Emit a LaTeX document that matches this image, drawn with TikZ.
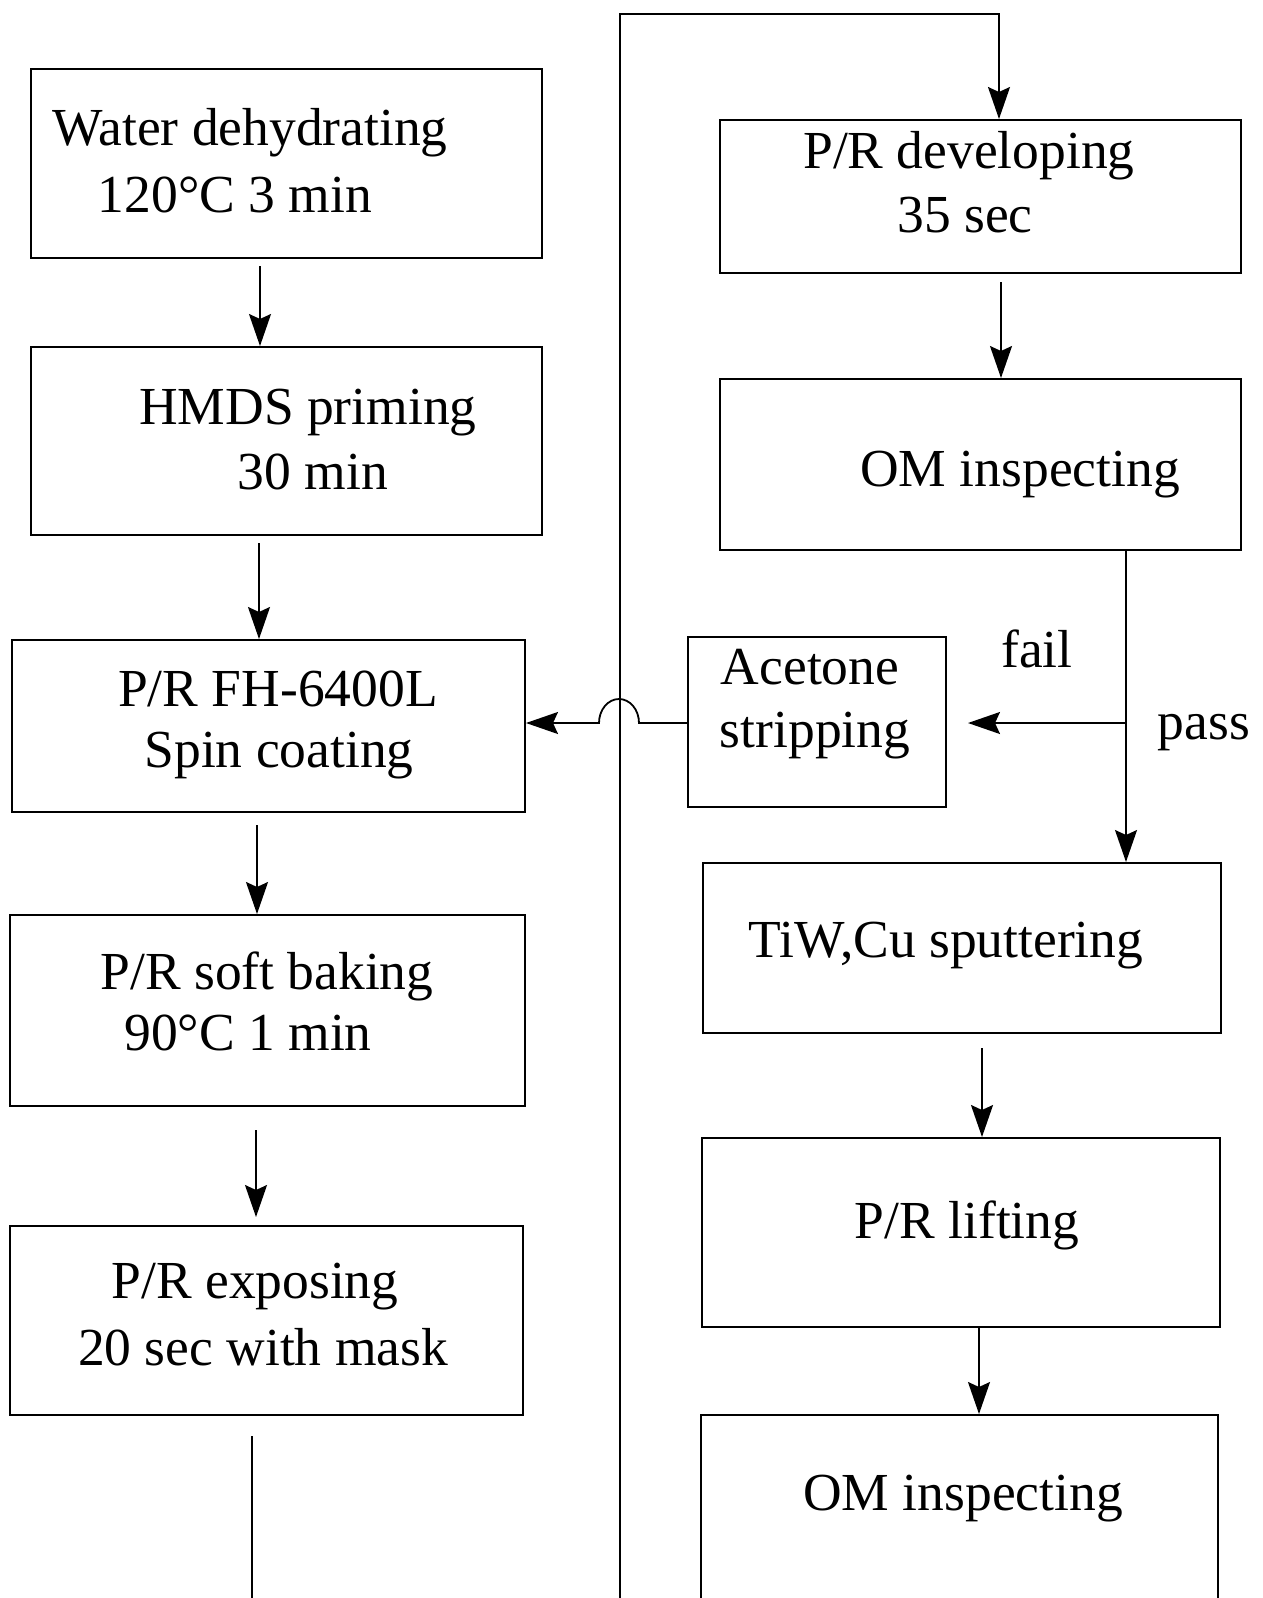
\documentclass[tikz,border=0pt]{standalone}
\usepackage{fontspec}
\setmainfont{Liberation Serif}
\usetikzlibrary{arrows.meta}
\begin{document}
\begin{tikzpicture}[x=1pt,y=-1pt,
  box/.style={draw, line width=2pt, inner sep=0pt},
  txt/.style={anchor=base, inner sep=0pt, font=\fontsize{53.5}{64}\selectfont},
  conn/.style={line width=1.8pt},
  arr/.style={line width=1.8pt, -{Stealth[length=32pt,width=22pt,inset=5pt]}}]
\path[use as bounding box] (0,0) rectangle (1263,1598);
\clip (0,0) rectangle (1263,1598);
% left column boxes
\node[box, minimum width=511pt, minimum height=189pt] (b1) at (286.5,163.5) {};
\node[box, minimum width=511pt, minimum height=188pt] (b2) at (286.5,441) {};
\node[box, minimum width=513pt, minimum height=172pt] (b3) at (268.5,726) {};
\node[box, minimum width=515pt, minimum height=191pt] (b4) at (267.5,1010.5) {};
\node[box, minimum width=513pt, minimum height=189pt] (b5) at (266.5,1320.5) {};
% right column boxes
\node[box, minimum width=521pt, minimum height=153pt] (r1) at (980.5,196.5) {};
\node[box, minimum width=521pt, minimum height=171pt] (r2) at (980.5,464.5) {};
\node[box, minimum width=258pt, minimum height=170pt] (ac) at (817,722) {};
\node[box, minimum width=518pt, minimum height=170pt] (r3) at (962,948) {};
\node[box, minimum width=518pt, minimum height=189pt] (r4) at (961,1232.5) {};
\node[box, minimum width=517pt, minimum height=260pt] (r5) at (959.5,1545) {};
% texts
\node[txt] (t1a) at (250,145) {Water dehydrating};
\node[txt] (t1b) at (235,212) {120°C 3 min};
\node[txt] (t2a) at (308,424) {HMDS priming};
\node[txt] (t2b) at (313,489) {30 min};
\node[txt] (t3a) at (278,706) {P/R FH-6400L};
\node[txt] (t3b) at (279,767) {Spin coating};
\node[txt] (t4a) at (267,989) {P/R soft baking};
\node[txt] (t4b) at (248,1050) {90°C 1 min};
\node[txt] (t5a) at (255,1298) {P/R exposing};
\node[txt] (t5b) at (263,1365) {20 sec with mask};
\node[txt] (u1a) at (969,168) {P/R developing};
\node[txt] (u1b) at (965,232) {35 sec};
\node[txt] (u2) at (1020,486) {OM inspecting};
\node[txt] (aca) at (810,684) {Acetone};
\node[txt] (acb) at (815,747) {stripping};
\node[txt] (lf) at (1037,667) {fail};
\node[txt] (lp) at (1204,739) {pass};
\node[txt] (u3) at (946,957) {TiW,Cu sputtering};
\node[txt] (u4) at (967,1238) {P/R lifting};
\node[txt] (u5) at (963,1510) {OM inspecting};
% helper coordinates
\coordinate (xa1) at (260,0);
\coordinate (xa2) at (259,0);
\coordinate (xa3) at (257,0);
\coordinate (xa4) at (256,0);
\coordinate (xl) at (252,0);
\coordinate (xr1) at (1001,0);
\coordinate (xp) at (1126,0);
\coordinate (xr3) at (982,0);
\coordinate (xr4) at (979,0);
\coordinate (jn) at (1126,723);
\coordinate (lb) at (252,1625);
\coordinate (lc) at (620,1625);
\coordinate (ld) at (620,14);
\coordinate (le) at (999,14);
% left column arrows
\draw[arr, shorten <=7pt] (b1.south -| xa1) -- (b2.north -| xa1);
\draw[arr, shorten <=7pt] (b2.south -| xa2) -- (b3.north -| xa2);
\draw[arr, shorten <=12pt] (b3.south -| xa3) -- (b4.north -| xa3);
\draw[arr, shorten <=23pt, shorten >=8pt] (b4.south -| xa4) -- (b5.north -| xa4);
% loop from exposing to developing
\draw[arr, shorten <=20pt] (b5.south -| xl) -- (lb) -- (lc) -- (ld) -- (le) -- (r1.north -| le);
% right column
\draw[arr, shorten <=8pt] (r1.south -| xr1) -- (r2.north -| xr1);
\draw[arr] (r2.south -| xp) -- (r3.north -| xp);
\draw[arr, shorten >=21pt] (jn) -- (jn -| ac.east);
\draw[arr] (ac.west |- jn) -- ++(-48,0)
  arc[start angle=0, end angle=-180, x radius=20, y radius=24]
  -- (jn -| b3.east);
\draw[arr, shorten <=14pt] (r3.south -| xr3) -- (r4.north -| xr3);
\draw[arr] (r4.south -| xr4) -- (r5.north -| xr4);
\end{tikzpicture}
\end{document}
